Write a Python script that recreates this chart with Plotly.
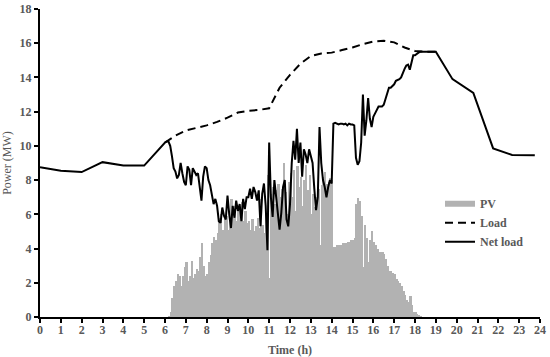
import numpy as np
import plotly.graph_objects as go

# PV output, 5-minute bars from 06:00 (MW)
pv = [
    0, 0, 0.05, 0.3, 1.1, 1.8, 2.1, 2.5, 2.4, 1.8, 2.4, 2.9,          # 6h
    3.2, 2.1, 2.4, 3.3, 2.3, 2.5, 2.8, 2.7, 3.5, 4.3, 3.0, 2.4,        # 7h
    2.5, 3.2, 3.6, 4.3, 4.7, 4.5, 4.9, 5.8, 6.0, 5.1, 5.7, 5.9,        # 8h
    5.1, 6.2, 6.9, 5.8, 6.5, 5.6, 6.3, 5.9, 6.7, 5.6, 6.2, 5.5,        # 9h
    5.6, 5.1, 5.7, 5.0, 5.3, 5.8, 5.2, 6.9, 5.4, 4.9, 6.1, 8.3,        # 10h
    2.3, 7.2, 7.6, 6.6, 7.4, 7.8, 7.0, 7.5, 9.0, 7.3, 6.0, 7.9,        # 11h
    8.4, 7.0, 8.6, 6.2, 8.8, 7.6, 8.2, 6.5, 8.0, 8.9, 7.4, 8.3,        # 12h
    6.0, 7.2, 6.4, 7.0, 7.5, 4.2, 7.7, 8.2, 8.5, 7.8, 7.9, 8.1,        # 13h
    8.0, 4.1, 4.1, 4.2, 4.2, 4.2, 4.3, 4.3, 4.3, 4.4, 4.4, 4.5,        # 14h
    4.5, 4.6, 6.6, 6.95, 6.8, 5.9, 2.9, 5.4, 4.6, 3.2, 4.5, 5.0,       # 15h
    4.4, 4.2, 4.0, 3.8, 3.8, 3.8, 3.7, 3.4, 3.0, 2.7, 2.7, 2.6,        # 16h
    2.5, 2.2, 2.1, 2.0, 1.8, 1.5, 1.3, 1.0, 0.9, 1.2, 0.7, 0.3,        # 17h
    0.3, 0.2, 0.1, 0.05,                                               # 18h
]
pv_time = 6 + np.arange(len(pv)) / 12

# load (dashed), only visible where it differs from net load
load_time = [6.0, 6.5, 7.0, 7.5, 8.0, 8.5, 9.0, 9.5, 10.0, 10.5, 11.0, 11.5,
             12.0, 12.5, 13.0, 13.5, 14.0, 14.5, 15.0, 15.5, 16.0, 16.5,
             17.0, 17.5, 18.0, 18.5, 19.0]
load = [10.2, 10.6, 10.9, 11.05, 11.2, 11.4, 11.65, 11.95, 12.05, 12.1, 12.2, 13.4,
        14.15, 14.8, 15.25, 15.4, 15.45, 15.6, 15.75, 15.95, 16.1, 16.15,
        16.05, 15.75, 15.55, 15.5, 15.5]

# net load
night_time = [0, 1, 2, 3, 4, 5]
night_net = [8.75, 8.55, 8.47, 9.05, 8.85, 8.85]

day_net = [
    10.2, 10.25, 10.25, 10.0, 9.4, 8.7, 8.5, 8.1, 8.3, 9.0, 8.4, 7.9,
    7.7, 8.8, 8.6, 7.7, 8.7, 8.5, 8.3, 8.4, 7.6, 6.8, 8.2, 8.8,
    8.7, 8.0, 7.7, 7.0, 6.6, 6.9, 6.5, 5.6, 5.5, 6.4, 5.9, 5.7,
    7.1, 6.0, 5.2, 6.5, 5.8, 6.8, 6.2, 6.6, 5.6, 6.9, 6.3, 7.0,
    7.0, 7.5, 6.9, 7.6, 7.3, 6.8, 7.4, 5.3, 7.2, 7.8, 6.5, 3.9,
    10.2, 7.0, 5.85, 8.0, 7.0, 6.1, 5.1, 6.1, 7.6, 8.0, 5.7, 5.3,
    6.6, 9.0, 10.3, 9.2, 11.0, 9.0, 10.2, 8.2, 9.8, 9.5, 9.0, 9.8,
    9.3, 9.0, 7.5, 6.25, 7.0, 11.1, 9.0, 8.0, 7.6, 7.0, 7.6, 8.0,
    7.8, 11.3, 11.35, 11.3, 11.25, 11.3, 11.3, 11.25, 11.3, 11.2, 11.3, 11.25,
    11.25, 11.2, 9.3, 8.9, 9.1, 10.2, 13.0, 10.6, 11.5, 12.8, 11.6, 11.1,
    11.7, 11.9, 12.1, 12.3, 12.3, 12.3, 12.4, 12.7, 13.1, 13.4, 13.4, 13.5,
    13.6, 13.8, 13.85, 13.9, 14.0, 14.3, 14.5, 14.7, 14.75, 14.45, 14.9, 15.3,
    15.3, 15.4, 15.45, 15.5, 15.5, 15.5, 15.5, 15.5, 15.5, 15.5,
]
day_time = 6 + np.arange(len(day_net)) / 12

eve_time = [19.0, 19.8, 20.8, 21.75, 22.66, 23.75]
eve_net = [15.5, 13.9, 13.1, 9.85, 9.47, 9.45]

net_time = list(night_time) + list(day_time) + eve_time
net_load = night_net + day_net + eve_net

serif = "Liberation Serif"
grey_txt = "#595959"

fig = go.Figure()
fig.add_trace(go.Bar(x=pv_time, y=pv, width=1 / 12, offset=0,
                     marker=dict(color="#b2b2b2", line_width=0),
                     showlegend=False, name="PV"))
# legend swatch for PV (wide grey bar like the original)
fig.add_trace(go.Scatter(x=[None], y=[None], mode="lines", name="PV",
                         line=dict(color="#b2b2b2", width=6)))
fig.add_trace(go.Scatter(x=load_time, y=load, mode="lines", name="Load",
                         line=dict(color="black", width=2, dash="8px,5px")))
fig.add_trace(go.Scatter(x=net_time, y=net_load, mode="lines", name="Net load",
                         line=dict(color="black", width=2)))

fig.update_layout(
    width=550, height=357,
    margin=dict(l=40, r=10, t=9, b=40),
    plot_bgcolor="white", paper_bgcolor="white",
    bargap=0,
    font=dict(family=serif, color=grey_txt, size=12),
    legend=dict(x=0.8, y=0.415, xanchor="left", yanchor="top",
                font=dict(family=serif, size=12, color=grey_txt, weight="bold"),
                bgcolor="rgba(0,0,0,0)", tracegroupgap=0, itemwidth=30),
)
fig.update_xaxes(range=[0, 24], tickmode="array", tickvals=list(range(25)),
                 showline=True, linecolor="black", linewidth=2,
                 ticks="outside", ticklen=4, tickwidth=2, tickcolor="black",
                 showgrid=False, zeroline=False, automargin=False,
                 ticklabelstandoff=-3,
                 tickfont=dict(family=serif, size=12, color=grey_txt, weight="bold"),
                 title=dict(text="Time (h)",
                            font=dict(family=serif, size=12, color=grey_txt, weight="bold")))
fig.update_yaxes(range=[0, 18], tickmode="array", tickvals=list(range(0, 19, 2)),
                 showline=True, linecolor="black", linewidth=2,
                 ticks="outside", ticklen=4, tickwidth=2, tickcolor="black",
                 showgrid=False, zeroline=False, automargin=False,
                 tickfont=dict(family=serif, size=12, color=grey_txt, weight="bold"),
                 title=dict(text="Power (MW)",
                            font=dict(family=serif, size=12, color=grey_txt)))

# drop the browser's default 8px body margin so the figure fills the window
fig.write_html("out.html", config={"displayModeBar": False},
               post_script="document.body.style.margin='0';")
